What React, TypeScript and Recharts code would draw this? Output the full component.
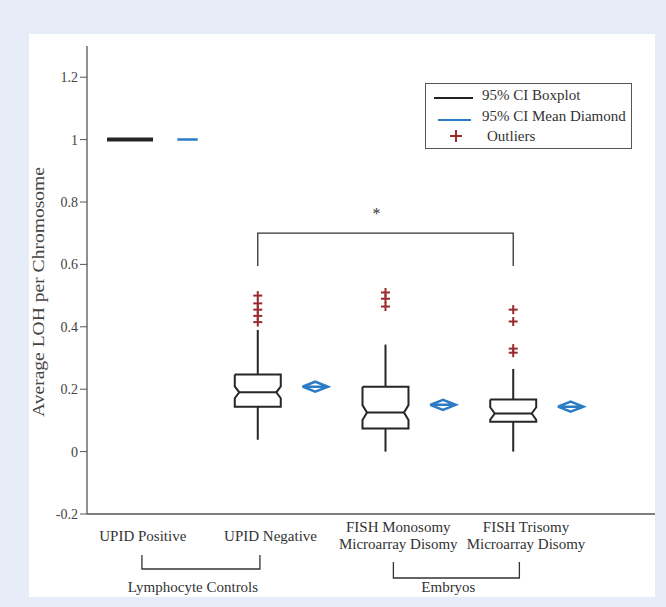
import React from "react";
import { ComposedChart, Scatter, XAxis, YAxis } from "recharts";

const FONT = '"Liberation Serif", "Times New Roman", serif';

// groups along the x axis
const groupNames = [
  "UPID Positive",
  "UPID Negative",
  "FISH Monosomy\nMicroarray Disomy",
  "FISH Trisomy\nMicroarray Disomy",
];
const groupPos = [1, 2, 3, 4];

// boxplot stats
const whiskerLow = [1, 0.038, 0, 0];
const q1 = [1, 0.144, 0.074, 0.096];
const median = [1, 0.19, 0.125, 0.122];
const q3 = [1, 0.247, 0.208, 0.167];
const whiskerHigh = [1, 0.39, 0.343, 0.265];
const notchCI = [0, 0.019, 0.024, 0.02];

// mean diamonds (95% CI)
const means = [1, 0.208, 0.15, 0.144];
const meanCI = [0, 0.016, 0.016, 0.016];

const outliers = [
  [],
  [0.415, 0.435, 0.455, 0.475, 0.5],
  [0.465, 0.49, 0.51],
  [0.317, 0.33, 0.417, 0.455],
];

const yTicks = [-0.2, 0, 0.2, 0.4, 0.6, 0.8, 1, 1.2];

// grouping brackets under the axis
const bracketNames = ["Lymphocyte Controls", "Embryos"];
const bracketCenters = [1.555, 3.555];

// significance bracket between UPID Negative and FISH Trisomy
const sigFrom = 2;
const sigTo = 4;
const sigLevel = 0.7;
const sigDrop = 0.595;

const X_DOMAIN = [0.663, 5.11];
const BOX_HALF = 0.18;
const NOTCH_IN = 0.035;
const DIAMOND_HALF = 0.1;
const MEAN_OFFSET = 0.45;
const LABEL_OFFSET = 0.1;

const BOX_COLOR = "#262626";
const BLUE = "#2b7cc4";
const RED = "#9a2a2e";
const AXIS = "#555";

const Empty = () => <g />;

const Plus = (p: any) => (
  <g stroke={RED} strokeWidth={2}>
    <line x1={p.cx - 4.5} x2={p.cx + 4.5} y1={p.cy} y2={p.cy} />
    <line x1={p.cx} x2={p.cx} y1={p.cy - 4.5} y2={p.cy + 4.5} />
  </g>
);

const Star = (p: any) => (
  <text x={p.cx} y={p.cy + 6} textAnchor="middle" fontSize={16} fontFamily={FONT} fill="#333">
    *
  </text>
);

function boxOutline(i: number) {
  const x = groupPos[i];
  const l = x - BOX_HALF;
  const r = x + BOX_HALF;
  const m = median[i];
  const n = notchCI[i];
  const inset = n > 0 ? NOTCH_IN : 0;
  return [
    { x: l, y: q3[i] },
    { x: r, y: q3[i] },
    { x: r, y: m + n },
    { x: r - inset, y: m },
    { x: r, y: m - n },
    { x: r, y: q1[i] },
    { x: l, y: q1[i] },
    { x: l, y: m - n },
    { x: l + inset, y: m },
    { x: l, y: m + n },
    { x: l, y: q3[i] },
  ];
}

function medianLine(i: number) {
  const x = groupPos[i];
  const inset = notchCI[i] > 0 ? NOTCH_IN : 0;
  return [
    { x: x - BOX_HALF + inset, y: median[i] },
    { x: x + BOX_HALF - inset, y: median[i] },
  ];
}

function diamond(i: number) {
  const x = groupPos[i] + MEAN_OFFSET;
  const m = means[i];
  const h = meanCI[i];
  const w = h > 0 ? DIAMOND_HALF : DIAMOND_HALF * 0.8;
  return [
    { x: x - w, y: m },
    { x, y: m + h },
    { x: x + w, y: m },
    { x, y: m - h },
    { x: x - w, y: m },
    { x: x + w, y: m },
  ];
}

const outlierPoints = outliers.flatMap((vals, i) => vals.map((v) => ({ x: groupPos[i], y: v })));

const sigPoints = [
  { x: sigFrom, y: sigDrop },
  { x: sigFrom, y: sigLevel },
  { x: sigTo, y: sigLevel },
  { x: sigTo, y: sigDrop },
];

const CategoryTick = (props: any) => {
  const { x, y, index } = props;
  const lines = groupNames[index].split("\n");
  const start = lines.length === 1 ? 19 : 10;
  return (
    <text x={x} y={y} textAnchor="middle" fontSize={15} fontFamily={FONT} fill="#333">
      {lines.map((t, k) => (
        <tspan key={k} x={x} y={y + start + k * 17}>
          {t}
        </tspan>
      ))}
    </text>
  );
};

const BracketTick = (props: any) => {
  const { x, y, index } = props;
  const half = index === 0 ? 59 : 63;
  const top = index === 0 ? y - 7 : y;
  const bot = index === 0 ? y + 7 : y + 16;
  return (
    <g>
      <path
        d={`M${x - half},${top}V${bot}H${x + half}V${top}`}
        fill="none"
        stroke="#333"
        strokeWidth={1.3}
      />
      <text x={x - 8} y={y + 30} textAnchor="middle" fontSize={15} fontFamily={FONT} fill="#333">
        {bracketNames[index]}
      </text>
    </g>
  );
};

const YLabel = (props: any) => {
  const vb = props.viewBox || { x: 27, y: 46, width: 60, height: 468 };
  const cx = vb.x + 11;
  const cy = vb.y + vb.height / 2 + 12;
  return (
    <text
      x={cx}
      y={cy}
      transform={`rotate(-90 ${cx} ${cy})`}
      textAnchor="middle"
      dominantBaseline="central"
      fontSize={17}
      fontFamily={FONT}
      fill="#444"
      textLength={250}
      lengthAdjust="spacingAndGlyphs"
    >
      Average LOH per Chromosome
    </text>
  );
};

export default function App() {
  return (
    <div
      style={{
        position: "relative",
        width: 666,
        height: 607,
        background: "#e7edf8",
        fontFamily: FONT,
        overflow: "hidden",
      }}
    >
      <style>{"body{margin:0}"}</style>
      <div style={{ position: "absolute", left: 29, top: 34, width: 626, height: 563, background: "#fff" }} />
      <div style={{ position: "absolute", left: 0, top: 0 }}>
        <ComposedChart width={666} height={607} margin={{ top: 46, right: 11, bottom: 0, left: 27 }}>
          <XAxis
            type="number"
            dataKey="x"
            domain={X_DOMAIN}
            ticks={groupPos.map((p) => p + LABEL_OFFSET)}
            tick={<CategoryTick />}
            tickLine={false}
            axisLine={{ stroke: AXIS, strokeWidth: 1.3 }}
            height={40}
            interval={0}
          />
          <XAxis
            xAxisId="grp"
            type="number"
            dataKey="x"
            domain={X_DOMAIN}
            ticks={bracketCenters}
            tick={<BracketTick />}
            tickLine={false}
            axisLine={false}
            height={53}
            interval={0}
          />
          <YAxis
            type="number"
            dataKey="y"
            domain={[-0.2, 1.3]}
            ticks={yTicks}
            width={60}
            interval={0}
            tickFormatter={(v: number) => String(v)}
            tick={{ fontSize: 14, fill: "#444", fontFamily: FONT }}
            tickSize={7}
            tickLine={{ stroke: AXIS }}
            axisLine={{ stroke: AXIS, strokeWidth: 1.3 }}
            label={{ content: <YLabel /> }}
          />

          {/* keeps the bracket axis attached to a series */}
          <Scatter
            xAxisId="grp"
            data={bracketCenters.map((c) => ({ x: c, y: 0 }))}
            shape={<Empty />}
            isAnimationActive={false}
          />

          {groupPos.map((_, i) => (
            <Scatter
              key={`box${i}`}
              data={boxOutline(i)}
              fill="none"
              shape={<Empty />}
              line={{ stroke: BOX_COLOR, strokeWidth: q1[i] === q3[i] ? 4 : 2 }}
              isAnimationActive={false}
            />
          ))}
          {groupPos.map((_, i) => (
            <Scatter
              key={`med${i}`}
              data={medianLine(i)}
              fill="none"
              shape={<Empty />}
              line={{ stroke: BOX_COLOR, strokeWidth: 2 }}
              isAnimationActive={false}
            />
          ))}
          {groupPos.map((p, i) => (
            <Scatter
              key={`wu${i}`}
              data={[
                { x: p, y: q3[i] },
                { x: p, y: whiskerHigh[i] },
              ]}
              fill="none"
              shape={<Empty />}
              line={{ stroke: BOX_COLOR, strokeWidth: 2 }}
              isAnimationActive={false}
            />
          ))}
          {groupPos.map((p, i) => (
            <Scatter
              key={`wl${i}`}
              data={[
                { x: p, y: q1[i] },
                { x: p, y: whiskerLow[i] },
              ]}
              fill="none"
              shape={<Empty />}
              line={{ stroke: BOX_COLOR, strokeWidth: 2 }}
              isAnimationActive={false}
            />
          ))}
          {groupPos.map((_, i) => (
            <Scatter
              key={`dia${i}`}
              data={diamond(i)}
              fill="none"
              shape={<Empty />}
              line={{ stroke: BLUE, strokeWidth: 2.5 }}
              isAnimationActive={false}
            />
          ))}
          <Scatter data={outlierPoints} shape={<Plus />} isAnimationActive={false} />
          <Scatter
            data={sigPoints}
            fill="none"
            shape={<Empty />}
            line={{ stroke: "#333", strokeWidth: 1.3 }}
            isAnimationActive={false}
          />
          <Scatter data={[{ x: 2.93, y: 0.765 }]} shape={<Star />} isAnimationActive={false} />
        </ComposedChart>
      </div>

      <div
        style={{
          position: "absolute",
          left: 425,
          top: 83,
          width: 205,
          height: 64,
          border: "1px solid #555",
          background: "#fff",
          fontSize: 15,
          color: "#333",
        }}
      >
        <div style={{ position: "absolute", left: 8, top: 13, width: 39, height: 1.5, background: "#222" }} />
        <div style={{ position: "absolute", left: 56, top: 3, whiteSpace: "nowrap" }}>95% CI Boxplot</div>
        <div style={{ position: "absolute", left: 12, top: 35, width: 33, height: 1.5, background: BLUE }} />
        <div style={{ position: "absolute", left: 56, top: 24, whiteSpace: "nowrap" }}>95% CI Mean Diamond</div>
        <div style={{ position: "absolute", left: 24, top: 51, width: 12, height: 2, background: RED }} />
        <div style={{ position: "absolute", left: 29, top: 46, width: 2, height: 12, background: RED }} />
        <div style={{ position: "absolute", left: 61, top: 44, whiteSpace: "nowrap" }}>Outliers</div>
      </div>
    </div>
  );
}
